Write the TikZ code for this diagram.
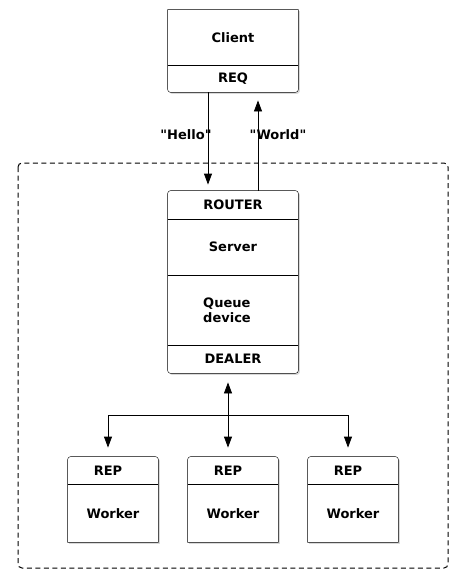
\documentclass[tikz,border=0pt]{standalone}
\usepackage{fontspec}
\setmainfont{DejaVu Sans}
\usetikzlibrary{arrows.meta,shadows,backgrounds}

\begin{document}
\begin{tikzpicture}[x=1pt,y=-1pt,line width=0.8pt,
    font=\bfseries\fontsize{13}{15}\selectfont,
    >={Triangle[length=11pt,width=8pt]},
    boxline/.style={draw,fill=white,
      drop shadow={shadow xshift=1.5pt,shadow yshift=-1.5pt,opacity=0.3}}]
\useasboundingbox (0,0) rectangle (467,586);

% server side
\draw[line width=1pt,dash pattern=on 5pt off 3.5pt,rounded corners=4pt] (18,163) rectangle (448,568);

\begin{scope}[every node/.style={inner sep=0pt,minimum width=130pt}]
  \node[minimum height=55pt] (client) at (233,37.5) {Client};
  \node[minimum height=27pt] (req) at (233,78.5) {REQ};
  \node[minimum height=28pt] (router) at (233,205) {ROUTER};
  \node[minimum height=56pt] (server) at (233,247) {Server};
  \node[minimum height=70pt,align=left] (queue) at (227,310) {Queue\\device};
  \node[minimum height=28pt] (dealer) at (233,359) {DEALER};
\end{scope}

\begin{scope}[every node/.style={inner sep=0pt,minimum width=90pt}]
  \foreach \i/\x in {1/113,2/233,3/353} {
    \node[minimum height=28pt] (rep\i) at (\x-5,471) {REP};
    \node[minimum height=57pt] (worker\i) at (\x,513.5) {Worker};
  }
\end{scope}

\begin{scope}[on background layer]
  \draw[boxline] (client.north west) -- (client.north east) [rounded corners=3pt] -- (req.south east) -- (req.south west) [sharp corners] -- cycle;
  \draw (client.south west) -- (client.south east);
  \draw[boxline,rounded corners=3pt] (router.north west) rectangle (dealer.south east);
  \draw (router.south west) -- (router.south east);
  \draw (server.south west) -- (server.south east);
  \draw (queue.south -| router.west) -- (queue.south -| router.east);
  \foreach \i in {1,2,3} {
    \draw[boxline] (worker\i.south west) -- (worker\i.south east) [rounded corners=3pt] -- (worker\i.east |- rep\i.north) -- (worker\i.west |- rep\i.north) [sharp corners] -- cycle;
    \draw (worker\i.north west) -- (worker\i.north east);
  }
\end{scope}

\begin{scope}[every node/.style={inner sep=0pt}]
  \draw[->,shorten >=6pt] ([xshift=-25pt]req.south) -- node[pos=0.43,xshift=-22pt] {\textquotedbl Hello\textquotedbl} ([xshift=-25pt]router.north);
  \draw[->,shorten >=8pt] ([xshift=25pt]router.north) -- node[pos=0.57,xshift=20pt] {\textquotedbl World\textquotedbl} ([xshift=25pt]req.south);
\end{scope}

\coordinate (fork) at (228,415);
\draw[<->,shorten <=9pt,shorten >=9pt] ([xshift=-5pt]dealer.south) -- (rep2.north);
\foreach \i in {1,3}
  \draw[->,shorten >=9pt] (fork) -| (rep\i.north);
\end{tikzpicture}
\end{document}
